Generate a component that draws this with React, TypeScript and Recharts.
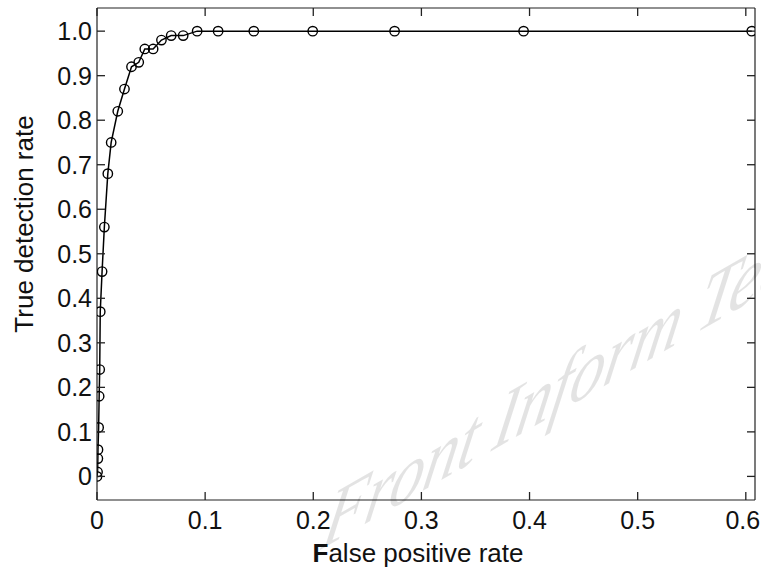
import React from 'react';
import { ComposedChart, Line, XAxis, YAxis } from 'recharts';

// False positive rate (x) and true detection rate (y) of each ROC point
const falsePositiveRate = [
  0, 0.0005, 0.0008, 0.0009, 0.0015, 0.002, 0.0025, 0.003, 0.0047, 0.0068,
  0.010, 0.0131, 0.0192, 0.0254, 0.0319, 0.0386, 0.0442, 0.0519, 0.0596, 0.0686,
  0.0797, 0.0926, 0.112, 0.145, 0.1995, 0.2752, 0.3945, 0.6055,
];
const trueDetectionRate = [
  0.0, 0.01, 0.04, 0.06, 0.11, 0.18, 0.24, 0.37, 0.46, 0.56,
  0.68, 0.75, 0.82, 0.87, 0.92, 0.93, 0.96, 0.96, 0.98, 0.99,
  0.99, 1.0, 1.0, 1.0, 1.0, 1.0, 1.0, 1.0,
];

const xTicks = [0, 0.1, 0.2, 0.3, 0.4, 0.5, 0.6];
const xTickLabels = ['0', '0.1', '0.2', '0.3', '0.4', '0.5', '0.6'];
const yTicks = [0, 0.1, 0.2, 0.3, 0.4, 0.5, 0.6, 0.7, 0.8, 0.9, 1.0];
const yTickLabels = ['0', '0.1', '0.2', '0.3', '0.4', '0.5', '0.6', '0.7', '0.8', '0.9', '1.0'];

const xTitle = 'False positive rate';
const yTitle = 'True detection rate';
const watermarkText = 'Front Inform Technol Electron Eng';

const xDomain = [0, 0.6085];
const yDomain = [-0.053, 1.052];

const data = falsePositiveRate.map((x, i) => ({ fpr: x, tdr: trueDetectionRate[i] }));

// layout
const W = 761;
const H = 572;
const PLOT_LEFT = 97;
const PLOT_RIGHT = 755;
const PLOT_TOP = 8;
const PLOT_BOTTOM = 500;

const FONT = '"Liberation Sans", Arial, Helvetica, sans-serif';
const TICK_LEN = 8;
const TICK_W = 1.3;
const FRAME = '#222';
const X_LABEL_GAP = 11;
const Y_LABEL_GAP = 5;

const BottomTick = (props: any) => {
  const { x, y, payload, index } = props;
  const last = index === xTicks.length - 1;
  const axisY = y - X_LABEL_GAP;
  return (
    <g>
      <line x1={x} x2={x} y1={axisY} y2={axisY - TICK_LEN} stroke={FRAME} strokeWidth={TICK_W} />
      <line x1={x} x2={x} y1={PLOT_TOP} y2={PLOT_TOP + TICK_LEN} stroke={FRAME} strokeWidth={TICK_W} />
      <text
        x={last ? x - 3 : x}
        y={y}
        dy="0.71em"
        textAnchor="middle"
        fontFamily={FONT}
        fontSize={25}
        fill="#111"
      >
        {xTickLabels[index] ?? String(payload.value)}
      </text>
    </g>
  );
};

const LeftTick = (props: any) => {
  const { x, y, payload, index } = props;
  const axisX = x + Y_LABEL_GAP;
  return (
    <g>
      <line x1={axisX} x2={axisX + TICK_LEN} y1={y} y2={y} stroke={FRAME} strokeWidth={TICK_W} />
      <line x1={PLOT_RIGHT} x2={PLOT_RIGHT - TICK_LEN} y1={y} y2={y} stroke={FRAME} strokeWidth={TICK_W} />
      <text x={x} y={y} dy="0.355em" textAnchor="end" fontFamily={FONT} fontSize={25} fill="#111">
        {yTickLabels[index] ?? String(payload.value)}
      </text>
    </g>
  );
};

export default function App() {
  return (
    <div style={{ position: 'absolute', left: 0, top: 0, width: W, height: H, background: '#fff' }}>
      <ComposedChart
        width={W}
        height={H}
        data={data}
        margin={{ top: PLOT_TOP - 1, right: W - PLOT_RIGHT - 1, bottom: H - PLOT_BOTTOM - 1, left: PLOT_LEFT - 1 }}
      >
        <XAxis
          xAxisId="bottom"
          dataKey="fpr"
          type="number"
          domain={xDomain}
          allowDataOverflow
          ticks={xTicks}
          interval={0}
          height={1}
          tickSize={0}
          tickMargin={X_LABEL_GAP}
          tickLine={false}
          axisLine={{ stroke: FRAME, strokeWidth: 1.2 }}
          tick={<BottomTick />}
        />
        <XAxis
          xAxisId="top"
          orientation="top"
          dataKey="fpr"
          type="number"
          domain={xDomain}
          allowDataOverflow
          height={1}
          tick={false}
          tickLine={false}
          axisLine={{ stroke: FRAME, strokeWidth: 1.2 }}
        />
        <YAxis
          yAxisId="left"
          dataKey="tdr"
          type="number"
          domain={yDomain}
          allowDataOverflow
          ticks={yTicks}
          interval={0}
          width={1}
          tickSize={0}
          tickMargin={Y_LABEL_GAP}
          tickLine={false}
          axisLine={{ stroke: FRAME, strokeWidth: 1.2 }}
          tick={<LeftTick />}
        />
        <YAxis
          yAxisId="right"
          orientation="right"
          dataKey="tdr"
          type="number"
          domain={yDomain}
          allowDataOverflow
          width={1}
          tick={false}
          tickLine={false}
          axisLine={{ stroke: FRAME, strokeWidth: 1.2 }}
        />
        <Line
          xAxisId="bottom"
          yAxisId="left"
          type="linear"
          dataKey="tdr"
          stroke="#000"
          strokeWidth={1.5}
          dot={{ r: 4.7, stroke: '#000', strokeWidth: 1.4, fill: 'none' }}
          activeDot={false}
          isAnimationActive={false}
        />
      </ComposedChart>
      <svg
        width={W}
        height={H}
        style={{ position: 'absolute', left: 0, top: 0, pointerEvents: 'none' }}
      >
        <text
          transform="translate(320 550) matrix(0.856 -0.494 -0.215 1.056 0 0)"
          fontFamily='"Liberation Serif", "Times New Roman", serif'
          fontStyle="italic"
          fontSize={80}
          fill="#000"
          fillOpacity={0.11}
        >
          {watermarkText}
        </text>
        <text x={418} y={562} textAnchor="middle" fontFamily={FONT} fontSize={26} fill="#111">
          <tspan fontWeight="bold">{xTitle.charAt(0)}</tspan>
          {xTitle.slice(1)}
        </text>
        <text
          transform="translate(33 224) rotate(-90)"
          textAnchor="middle"
          fontFamily={FONT}
          fontSize={26}
          fill="#111"
        >
          {yTitle}
        </text>
      </svg>
    </div>
  );
}
